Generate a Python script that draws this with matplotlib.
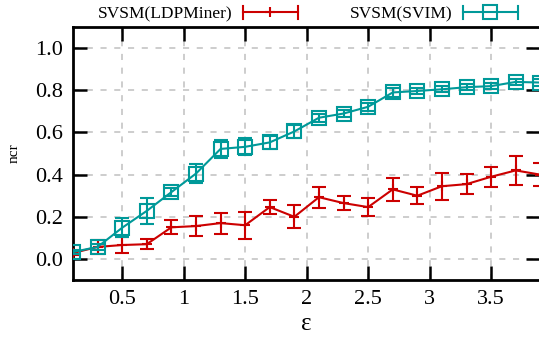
import numpy as np
import matplotlib.pyplot as plt
from matplotlib.lines import Line2D
from matplotlib.legend_handler import HandlerBase

plt.rcParams['font.family'] = ['Liberation Serif', 'DejaVu Serif']

# privacy budget
eps = [0.1, 0.3, 0.5, 0.7, 0.9, 1.1, 1.3, 1.5, 1.7, 1.9,
       2.1, 2.3, 2.5, 2.7, 2.9, 3.1, 3.3, 3.5, 3.7, 3.9]

# SVSM(LDPMiner)
ncr_ldp = [0.028, 0.057, 0.066, 0.07, 0.15, 0.156, 0.17, 0.16, 0.246, 0.2,
           0.293, 0.265, 0.246, 0.33, 0.30, 0.345, 0.355, 0.39, 0.42, 0.40]
err_ldp = [0.01, 0.035, 0.04, 0.025, 0.033, 0.047, 0.05, 0.065, 0.033, 0.055,
           0.05, 0.035, 0.043, 0.055, 0.04, 0.064, 0.047, 0.047, 0.068, 0.055]

# SVSM(SVIM)
ncr_svim = [0.033, 0.057, 0.148, 0.228, 0.317, 0.405, 0.522, 0.532, 0.553, 0.605,
            0.67, 0.69, 0.722, 0.79, 0.797, 0.805, 0.815, 0.82, 0.84, 0.837]
err_svim = [0.01, 0.015, 0.045, 0.06, 0.02, 0.047, 0.042, 0.04, 0.03, 0.03,
            0.02, 0.015, 0.02, 0.02, 0.015, 0.015, 0.015, 0.015, 0.015, 0.015]

red = '#cc0000'
teal = '#009999'


class ErrLineHandler(HandlerBase):
    # horizontal sample with bar ends and the point symbol in the middle
    def create_artists(self, legend, orig_handle, xdescent, ydescent,
                       width, height, fontsize, trans):
        y = height / 2 - ydescent
        x0, x1 = -xdescent, width - xdescent
        c = orig_handle.get_color()
        h = 0.75 * fontsize
        arts = [Line2D([x0, x1], [y, y], color=c, lw=1.5),
                Line2D([x0, x0], [y - h / 2, y + h / 2], color=c, lw=1.5),
                Line2D([x1, x1], [y - h / 2, y + h / 2], color=c, lw=1.5),
                Line2D([(x0 + x1) / 2], [y], color=c, ls='none',
                       marker=orig_handle.get_marker(),
                       markersize=orig_handle.get_markersize(),
                       markerfacecolor='none', markeredgewidth=1.5)]
        for a in arts:
            a.set_transform(trans)
        return arts


fig = plt.figure(figsize=(5.39, 3.39), dpi=100)
ax = fig.add_axes([0.1354, 0.174, 0.867, 0.746])

ax.errorbar(eps, ncr_ldp, yerr=err_ldp, color=red, lw=1.5, marker='+',
            markersize=7, mew=1.5, capsize=5, elinewidth=1.5, capthick=1.5,
            zorder=3)
ax.errorbar(eps, ncr_svim, yerr=err_svim, color=teal, lw=1.5, marker='s',
            markersize=9.5, mfc='none', mew=1.5, capsize=5, elinewidth=1.5,
            capthick=1.5, zorder=4)

ax.set_xlim(0.1, 3.9)
ax.set_ylim(-0.1, 1.1)
ax.set_xticks([0.5, 1, 1.5, 2, 2.5, 3, 3.5])
ax.set_xticklabels(['0.5', '1', '1.5', '2', '2.5', '3', '3.5'])
ax.set_yticks([0.0, 0.2, 0.4, 0.6, 0.8, 1.0])
ax.set_yticklabels(['0.0', '0.2', '0.4', '0.6', '0.8', '1.0'])

ax.grid(True, color='#c0c0c0', linestyle=(0, (4, 5)), linewidth=1.1)
ax.set_axisbelow(True)
ax.tick_params(direction='in', length=10, width=1.8, top=True, right=True,
               labelsize=16, pad=7)
for s in ax.spines.values():
    s.set_linewidth(2)

ax.set_xlabel('ε', fontsize=18, labelpad=3)
ax.set_ylabel('ncr', fontsize=11)
ax.yaxis.set_label_coords(-0.112, 0.5)

handles = [Line2D([], [], color=red, marker='+', markersize=7),
           Line2D([], [], color=teal, marker='s', markersize=9.5)]
fig.legend(handles, ['SVSM(LDPMiner)', 'SVSM(SVIM)'], ncol=2,
           loc='center', bbox_to_anchor=(0.571, 0.958), frameon=False,
           fontsize=12.5, markerfirst=False, handlelength=3.17,
           handletextpad=0.58, columnspacing=3.0,
           handler_map={Line2D: ErrLineHandler()})

fig.savefig('out.png', dpi=100)
